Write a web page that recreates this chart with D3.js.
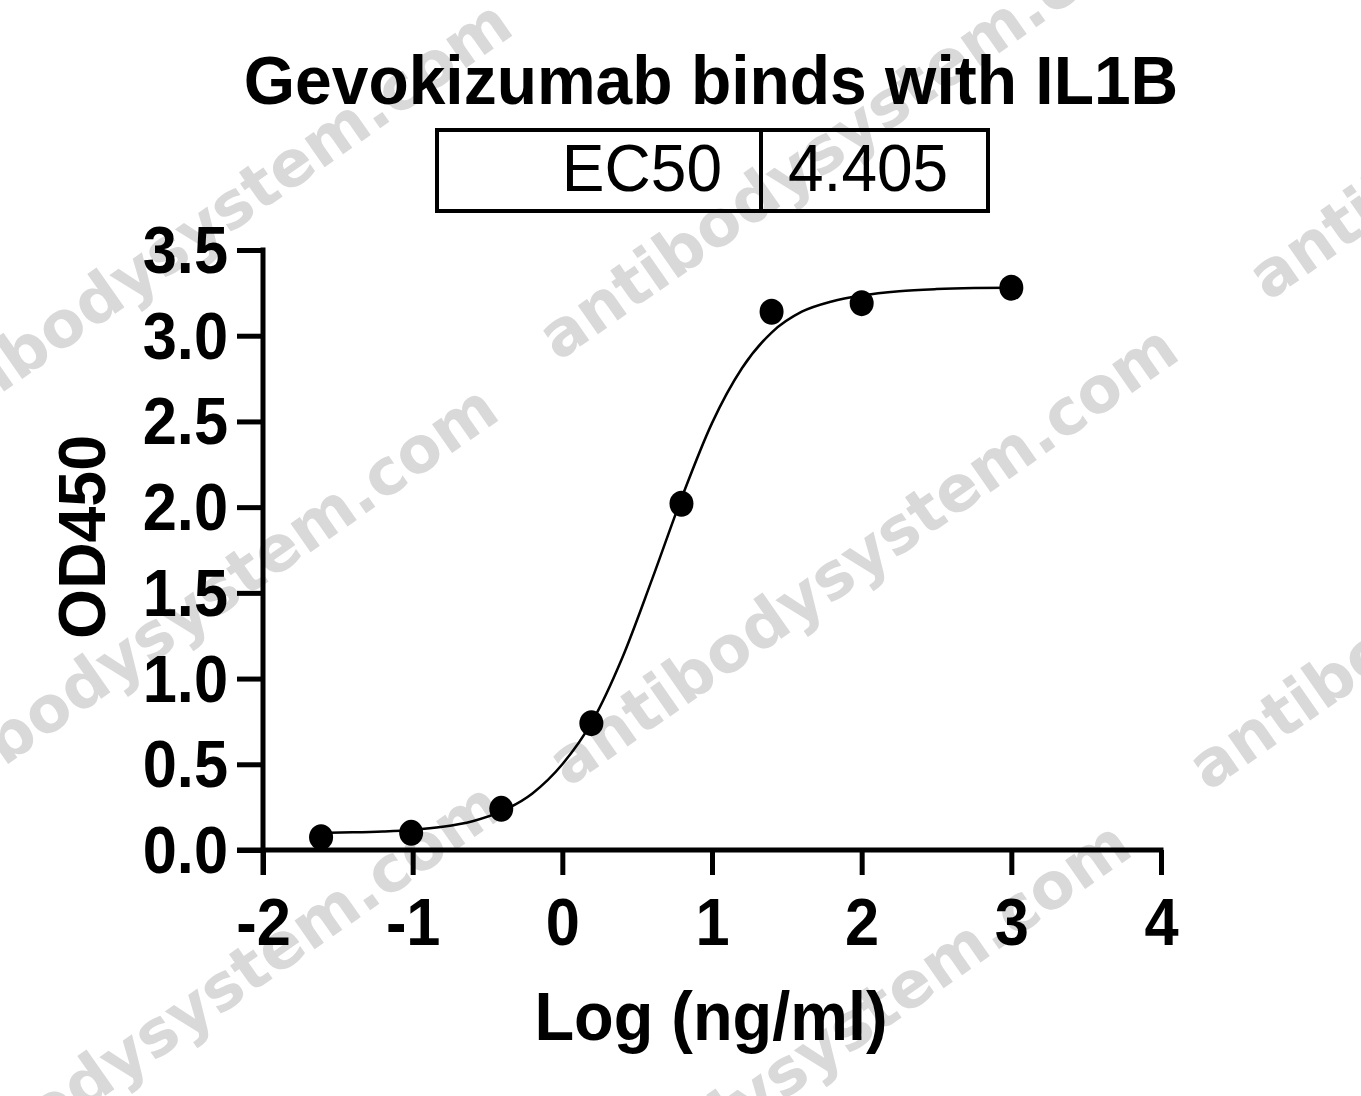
<!DOCTYPE html>
<html>
<head>
<meta charset="utf-8">
<script src="https://cdn.jsdelivr.net/npm/d3@7"></script>
<style>
  html, body { margin: 0; padding: 0; background: #fff; }
  svg { display: block; }
</style>
</head>
<body>
<svg id="chart" width="1361" height="1096"></svg>
<script>
// ---- Data ----
const titleText = "Gevokizumab binds with IL1B";
const ec50Label = "EC50";
const ec50Value = "4.405";
const xAxisLabel = "Log (ng/ml)";
const yAxisLabel = "OD450";

// measured points: log10 concentration (ng/ml) and OD450
const pointLogConc = [-1.612, -1.010, -0.408, 0.194, 0.796, 1.398, 2.0, 3.0];
const pointOD = [0.075, 0.10, 0.24, 0.74, 2.02, 3.14, 3.19, 3.28];

// fitted curve
const curveLogConc = [-1.62, -1.4, -1.2, -1.0, -0.8, -0.6, -0.4, -0.2, 0, 0.2, 0.4, 0.6, 0.8, 1.0, 1.2, 1.4, 1.6, 1.8, 2.0, 2.25, 2.5, 2.75, 3.0];
const curveOD = [0.10, 0.103, 0.108, 0.117, 0.135, 0.168, 0.228, 0.33, 0.50, 0.75, 1.12, 1.58, 2.06, 2.49, 2.81, 3.02, 3.14, 3.20, 3.235, 3.26, 3.272, 3.278, 3.28];

const xTicks = [-2, -1, 0, 1, 2, 3, 4];
const yTicks = [0, 0.5, 1.0, 1.5, 2.0, 2.5, 3.0, 3.5];

const watermarkText = "antibodysystem.com";
const watermarkAnchors = [[-98, 463], [558, 362], [1268, 302], [-112, 848], [568, 788], [1208, 792], [-108, 1245], [521, 1284]];

// ---- Drawing ----
const svg = d3.select("#chart");
const FONT = "'Liberation Sans', Arial, Helvetica, sans-serif";

// squeeze a text horizontally (the reference type is slightly condensed)
function condense(sel, factor) {
  sel.each(function () {
    const len = this.getComputedTextLength();
    d3.select(this).attr("textLength", len * factor).attr("lengthAdjust", "spacingAndGlyphs");
  });
}

// watermarks (behind everything)
const wm = svg.append("g").attr("class", "watermarks");
watermarkAnchors.forEach(([wx, wy]) => {
  wm.append("text")
    .attr("transform", `translate(${wx},${wy}) rotate(-35)`)
    .attr("font-family", "'DejaVu Sans', Verdana, sans-serif")
    .attr("font-weight", "bold")
    .attr("font-size", 64)
    .attr("fill", "#d9d9d9")
    .text(watermarkText);
});

const x = d3.scaleLinear().domain([-2, 4]).range([263, 1161]);
const y = d3.scaleLinear().domain([0, 3.5]).range([850, 250]);

const AXW = 5;
const tickLenY = 26, tickLenX = 25;

// y axis
const yAxis = d3.axisLeft(y).tickValues(yTicks).tickFormat(d3.format(".1f"))
  .tickSize(tickLenY).tickPadding(9).tickSizeOuter(0);
const gy = svg.append("g").attr("transform", `translate(${x(-2)},0)`).call(yAxis);
gy.select(".domain").remove();
gy.selectAll(".tick line").attr("stroke", "#000").attr("stroke-width", AXW);
gy.selectAll(".tick text").attr("font-family", FONT).attr("font-weight", "bold")
  .attr("font-size", 66).attr("fill", "#000").attr("dy", "0.34em")
  .call(condense, 0.93);

// x axis
const xAxis = d3.axisBottom(x).tickValues(xTicks).tickFormat(d3.format("d"))
  .tickSize(tickLenX).tickPadding(23).tickSizeOuter(0);
const gx = svg.append("g").attr("transform", `translate(0,${y(0)})`).call(xAxis);
gx.select(".domain").remove();
gx.selectAll(".tick line").attr("stroke", "#000").attr("stroke-width", AXW);
gx.selectAll(".tick text").attr("font-family", FONT).attr("font-weight", "bold")
  .attr("font-size", 66).attr("fill", "#000")
  .text(d => d < 0 ? "-" + Math.abs(d) : String(d))
  .call(condense, 0.93);

// axis lines (extend to meet tick ends, like the original)
svg.append("line")
  .attr("x1", x(-2)).attr("x2", x(-2))
  .attr("y1", y(3.5) - AXW / 2).attr("y2", y(0) + tickLenX)
  .attr("stroke", "#000").attr("stroke-width", AXW);
svg.append("line")
  .attr("x1", x(-2) - tickLenY).attr("x2", x(4) + AXW / 2)
  .attr("y1", y(0)).attr("y2", y(0))
  .attr("stroke", "#000").attr("stroke-width", AXW);

// fitted curve
const curveData = curveLogConc.map((c, i) => [c, curveOD[i]]);
svg.append("path")
  .datum(curveData)
  .attr("fill", "none")
  .attr("stroke", "#000")
  .attr("stroke-width", 2.5)
  .attr("d", d3.line().x(d => x(d[0])).y(d => y(d[1])).curve(d3.curveMonotoneX));

// points
svg.append("g").selectAll("ellipse")
  .data(pointLogConc.map((c, i) => [c, pointOD[i]]))
  .join("ellipse")
  .attr("cx", d => x(d[0]))
  .attr("cy", d => y(d[1]))
  .attr("rx", 12)
  .attr("ry", 13)
  .attr("fill", "#000");

// title
svg.append("text")
  .attr("x", 711).attr("y", 104)
  .attr("text-anchor", "middle")
  .attr("font-family", FONT).attr("font-weight", "bold").attr("font-size", 68)
  .attr("fill", "#000")
  .text(titleText)
  .call(condense, 0.97);

// EC50 table
svg.append("rect")
  .attr("x", 437).attr("y", 130).attr("width", 551).attr("height", 81)
  .attr("fill", "none").attr("stroke", "#000").attr("stroke-width", 4);
svg.append("line")
  .attr("x1", 761).attr("x2", 761).attr("y1", 130).attr("y2", 211)
  .attr("stroke", "#000").attr("stroke-width", 4);
svg.append("text")
  .attr("x", 722).attr("y", 191).attr("text-anchor", "end")
  .attr("font-family", FONT).attr("font-size", 66).attr("fill", "#000")
  .text(ec50Label)
  .call(condense, 0.97);
svg.append("text")
  .attr("x", 788).attr("y", 191).attr("text-anchor", "start")
  .attr("font-family", FONT).attr("font-size", 66).attr("fill", "#000")
  .text(ec50Value)
  .call(condense, 0.97);

// axis titles
svg.append("text")
  .attr("x", 711).attr("y", 1040)
  .attr("text-anchor", "middle")
  .attr("font-family", FONT).attr("font-weight", "bold").attr("font-size", 69)
  .attr("fill", "#000")
  .text(xAxisLabel)
  .call(condense, 0.94);
svg.append("text")
  .attr("transform", "translate(105,537) rotate(-90)")
  .attr("text-anchor", "middle")
  .attr("font-family", FONT).attr("font-weight", "bold").attr("font-size", 67)
  .attr("fill", "#000")
  .text(yAxisLabel)
  .call(condense, 0.96);
</script>
</body>
</html>
